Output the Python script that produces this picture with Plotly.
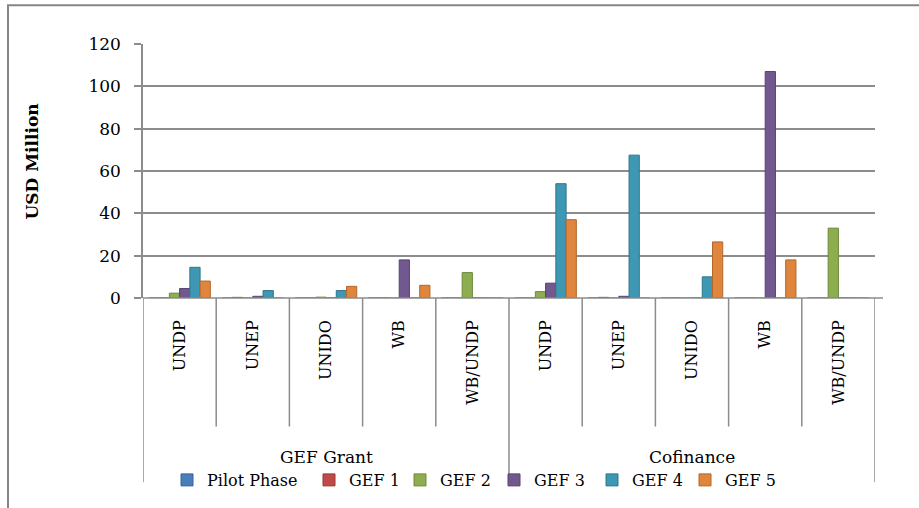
import plotly.graph_objects as go

groups = ["GEF Grant"] * 5 + ["Cofinance"] * 5
agencies = ["UNDP", "UNEP", "UNIDO", "WB", "WB/UNDP"] * 2
series_names = ["Pilot Phase", "GEF 1", "GEF 2", "GEF 3", "GEF 4", "GEF 5"]

pilot = [0, 0, 0, 0, 0, 0, 0, 0, 0, 0]
gef1 = [0, 0.3, 0, 0, 0, 0, 0.3, 0, 0, 0]
gef2 = [2.3, 0, 0.4, 0, 12, 3, 0, 0, 0, 33]
gef3 = [4.5, 0.8, 0, 18, 0, 7, 0.8, 0, 107, 0]
gef4 = [14.5, 3.5, 3.5, 0, 0, 54, 67.5, 10, 0, 0]
gef5 = [8, 0, 5.5, 6, 0, 37, 0, 26.5, 18, 0]

y_ticks = [0, 20, 40, 60, 80, 100, 120]

colors = ["#4A7EBB", "#BE4B48", "#8DAE4E", "#71588F", "#3E98B3", "#E0853C"]
edge = ["#3A6494", "#963B39", "#6E883D", "#574470", "#2F758A", "#B0682F"]

FONT = "DejaVu Serif"
GRID = "#8C8C8C"

x_idx = list(range(len(agencies)))
values = [pilot, gef1, gef2, gef3, gef4, gef5]

L, R, T, B = 143, 875, 44, 299
W, H = 919, 508
pw, ph = R - L, B - T


def px_x(px):
    return (px - L) / pw


def px_y(py):
    return (B - py) / ph


# legend marker centres (screen px) of the reference
legend_px = [188, 330, 421, 515, 613, 706]
legend_ids = ["legend", "legend2", "legend3", "legend4", "legend5", "legend6"]

fig = go.Figure()
for name, vals, c, e, lid in zip(series_names, values, colors, edge, legend_ids):
    fig.add_trace(go.Bar(
        x=x_idx, y=vals, name=name, legend=lid,
        marker=dict(color=c, line=dict(color=e, width=1)),
    ))

shapes = []
# inner dividers
for k in [0.5, 1.5, 2.5, 3.5, 5.5, 6.5, 7.5, 8.5]:
    shapes.append(dict(type="line", xref="x", yref="paper", x0=k, x1=k,
                       y0=0, y1=px_y(428), line=dict(color=GRID, width=1.5)))
# outer dividers
for k in [-0.5, 4.5, 9.5]:
    shapes.append(dict(type="line", xref="x", yref="paper", x0=k, x1=k,
                       y0=0, y1=px_y(484), line=dict(color=GRID, width=1.5)))
# chart border
shapes.append(dict(type="rect", xref="paper", yref="paper",
                   x0=px_x(8), x1=px_x(930), y0=px_y(5), y1=px_y(520),
                   line=dict(color="#868686", width=2), layer="below"))
# floor front line
shapes.append(dict(type="line", xref="paper", yref="paper", x0=0, x1=px_x(883),
                   y0=0, y1=0, line=dict(color=GRID, width=1.5)))

annotations = [
    dict(text="USD Million", xref="paper", yref="paper", x=px_x(32), y=px_y(162),
         xanchor="center", yanchor="middle",
         textangle=-90, showarrow=False, font=dict(family=FONT, size=17, color="black", weight="bold")),
    dict(text="GEF Grant", xref="x", yref="paper", x=2, y=px_y(459),
         xanchor="center", yanchor="middle",
         showarrow=False, font=dict(family=FONT, size=17, color="black")),
    dict(text="Cofinance", xref="x", yref="paper", x=7, y=px_y(459),
         xanchor="center", yanchor="middle",
         showarrow=False, font=dict(family=FONT, size=17, color="black")),
]

layout_legends = {}
for lid, cx in zip(legend_ids, legend_px):
    layout_legends[lid] = dict(
        orientation="h", x=px_x(cx - 21), y=px_y(480), xanchor="left", yanchor="middle",
        font=dict(family=FONT, size=16, color="black"), bgcolor="rgba(0,0,0,0)",
        itemwidth=30, borderwidth=0,
    )

fig.update_layout(
    width=W, height=H,
    margin=dict(l=L, r=W - R, t=T, b=H - B, pad=0),
    paper_bgcolor="white", plot_bgcolor="white",
    barmode="group", bargap=0.16, bargroupgap=0.0,
    font=dict(family=FONT, size=16, color="black"),
    showlegend=True,
    shapes=shapes,
    annotations=annotations,
    **layout_legends,
)

fig.update_xaxes(
    range=[-0.5, 9.5], tickmode="array", tickvals=x_idx, ticktext=agencies,
    tickangle=-90, ticks="", showgrid=False, zeroline=False, showline=False,
    ticklabelstandoff=18, tickfont=dict(family=FONT, size=16, color="black"),
)
fig.update_yaxes(
    range=[0, 120], tickvals=y_ticks, showgrid=True, gridcolor=GRID, gridwidth=1.5,
    zeroline=False, showline=True, linecolor=GRID, linewidth=1.5,
    ticks="outside", ticklen=7, tickcolor=GRID, tickwidth=1.5,
    ticklabelstandoff=10, tickfont=dict(family=FONT, size=17, color="black"),
)

fig.write_html("out.html", config={"displayModeBar": False},
               post_script="document.body.style.margin='0';")
